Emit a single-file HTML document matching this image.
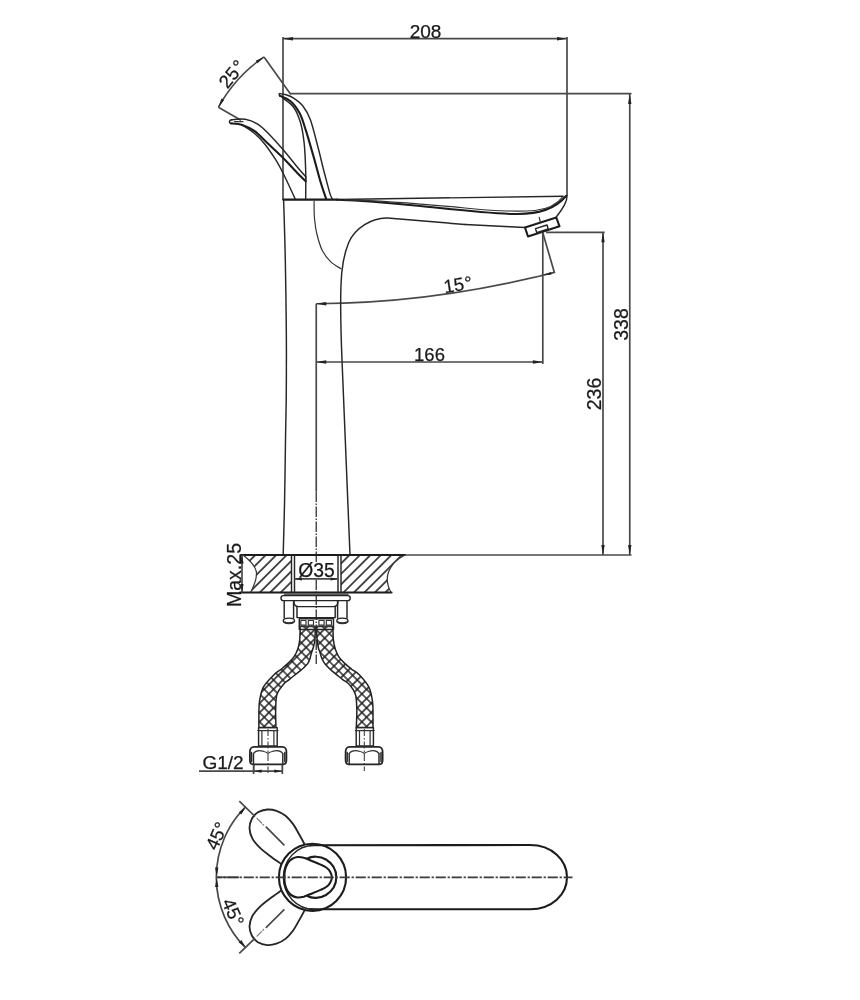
<!DOCTYPE html>
<html>
<head>
<meta charset="utf-8">
<title>Faucet dimension drawing</title>
<style>
  html, body { margin: 0; padding: 0; background: #fff; }
  body { width: 860px; height: 1000px; overflow: hidden; }
  svg { display: block; will-change: transform; }
  text { font-family: "Liberation Sans", sans-serif; fill: #1a1a1a; stroke: #1a1a1a; stroke-width: 0.25; }
  .l  { fill: none; stroke: #262626; stroke-width: 1.45; stroke-linecap: round; stroke-linejoin: round; }
  .t  { fill: none; stroke: #333; stroke-width: 1.2; stroke-linecap: round; stroke-linejoin: round; }
  .k  { fill: none; stroke: #1c1c1c; stroke-width: 2.1; stroke-linecap: round; stroke-linejoin: round; }
  .d  { fill: none; stroke: #4a4a4a; stroke-width: 1.7; }
  .cl { fill: none; stroke: #3a3a3a; stroke-width: 1.35; stroke-dasharray: 10 2.2 2 2.2; }
  .a  { fill: #222; stroke: none; }
</style>
</head>
<body>
<svg width="860" height="1000" viewBox="0 0 860 1000">
<defs>
  <filter id="soft" x="0" y="0" width="860" height="1000" filterUnits="userSpaceOnUse"><feGaussianBlur stdDeviation="0.45"/></filter>
  <pattern id="hatch" patternUnits="userSpaceOnUse" width="7.4" height="7.4" patternTransform="translate(-0.7,0) rotate(-45)">
    <line x1="-1" y1="3.7" x2="8.4" y2="3.7" stroke="#222" stroke-width="1.6"/>
  </pattern>
  <pattern id="braid" patternUnits="userSpaceOnUse" width="6.576" height="6.576" patternTransform="translate(264.25,698.6) rotate(45)">
    <path d="M0,0H6.576M0,6.576H6.576M0,0V6.576M6.576,0V6.576" stroke="#1e1e1e" stroke-width="1.5" fill="none"/>
  </pattern>
</defs>
<rect width="860" height="1000" fill="#fff"/>
<g filter="url(#soft)">

<!-- ===================== SIDE VIEW : DIMENSIONS ===================== -->
<g id="dims">
  <!-- 208 -->
  <path class="d" d="M283,37V199.5M567,37V196M283,38.7H567"/>
  <path class="a" d="M283,38.7l10,-1.7v3.4zM567,38.7l-10,-1.7v3.4z"/>
  <text x="425.5" y="38" font-size="19" text-anchor="middle">208</text>
  <!-- top reference line + 338 -->
  <path class="d" d="M290.5,93.7H631.5M629.75,93.7V555"/>
  <path class="a" d="M629.75,94l-1.7,10h3.4zM629.75,555l-1.7,-10h3.4z"/>
  <text transform="translate(627.8,324.5) rotate(-90)" font-size="19.5" text-anchor="middle">338</text>
  <!-- 236 -->
  <path class="d" d="M546,232.3H604.7M603,232.3V555"/>
  <path class="a" d="M603,232.3l-1.7,10h3.4zM603,555l-1.7,-10h3.4z"/>
  <text transform="translate(600.8,394) rotate(-90)" font-size="19.5" text-anchor="middle">236</text>
  <!-- 166 -->
  <path class="d" d="M542.8,232.5V364M316.25,362H542.8"/>
  <path class="a" d="M316.25,362l10,-1.7v3.4zM542.8,362l-10,-1.7v3.4z"/>
  <text x="429.5" y="360.5" font-size="18.5" text-anchor="middle">166</text>
  <!-- 15 deg -->
  <path class="d" d="M316.25,303.75Q435,303.2 554.4,272.4M542.8,232.8L554.6,273.3"/>
  <path class="a" d="M316.25,303.75l10,-1.7v3.4zM543.3,275l7.6,-3l0.7,2.6z"/>
  <text x="458" y="291" font-size="18.5" text-anchor="middle" transform="rotate(-9 458 285)">15<tspan dx="0.8">°</tspan></text>
  <!-- axis -->
  <path class="d" d="M316.25,303.75V491.5"/>
  <path class="cl" d="M316.25,491.5V562.5" style="stroke-dasharray:10.5 1.5 1.5 1.5"/>
  <path class="cl" d="M316.25,579.5V664" style="stroke-dasharray:10.5 1.5 1.5 1.5"/>
  <!-- 25 deg -->
  <path class="d" d="M218.4,107.2A149,149 0 0 1 264.0,56.9M264.0,56.9L290.8,94.6M218.4,107.2L241,120.3"/>
  <path class="a" d="M264.0,56.9L257.5,63.3L255.7,60.7ZM218.4,107.2L221.4,98.6L224.2,100.1Z"/>
  <text transform="translate(236.8,78) rotate(-51)" font-size="18.5" text-anchor="middle">25<tspan dx="1.6">°</tspan></text>
</g>

<!-- ===================== SIDE VIEW : FAUCET ===================== -->
<g id="faucet">
  <!-- body edges -->
  <path class="l" d="M283.6,199.5C283.9,209.6 284.9,238.2 285.3,260.0C285.8,281.8 286.1,308.3 286.3,330.0C286.5,351.7 286.4,371.7 286.3,390.0C286.2,408.3 285.8,421.7 285.5,440.0C285.2,458.3 285.0,480.9 284.6,500.0C284.2,519.1 283.4,545.4 283.2,554.5"/>
  <path class="l" d="M465,224.5L387.5,218C372,217.5 355,228 348.75,242.5C343,256 341.5,268 341,285C340,310 341,335 342,360S346,470 350,554.5"/>
  <path class="t" d="M314.1,201.4C314.1,204.0 314.0,211.8 314.4,217.2C314.9,222.6 315.5,228.4 316.9,234.0C318.2,239.5 320.1,246.0 322.4,250.7C324.8,255.3 327.7,258.9 330.8,261.9C333.9,264.9 339.3,267.6 341.0,268.7"/>
  <!-- spout -->
  <path class="k" style="stroke-width:2.4" d="M283.5,199.6H337"/>
  <path class="l" d="M337,199.5L563,196.2"/>
  <path class="k" d="M337,199.8C370,201 395,203.5 415,205.5C450,209 490,213.5 515,214C540,214.5 556,208 566,196"/>
  <path class="t" d="M345,199.8C380,200.5 420,203.5 465,208C500,211.5 520,212 535,210.5C548,209 558,203 563,196.5"/>
  <path class="l" d="M465,224.5L525,227.5"/>
  <path class="l" d="M567,195.5C567.2,199 566,202 564.5,204.8C562.5,208.5 559.5,213 556.3,217"/>
  <!-- aerator -->
  <path class="k" d="M525,227.5L556.3,217.5L559.5,226.3L528,236.5Z"/>
  <path class="l" d="M535.5,228.6L547,225L548.2,229L536.8,232.7Z"/>
  <path class="t" d="M539.2,217.3L540.2,221.5"/>
  <!-- upright handle -->
  <path class="l" d="M279.8,96C278.6,94.3 279.2,93.2 280.3,93.6C281.3,94.1 283.8,94.1 286.0,94.8C288.3,95.5 290.8,96.3 293.6,98.1C296.4,100.0 299.9,102.2 302.7,105.7C305.4,109.2 307.7,112.5 310.2,119.3C312.8,126.1 315.5,137.9 317.8,146.5C320.1,155.1 321.8,162.9 323.8,170.7C325.9,178.5 328.5,188.7 329.9,193.4C331.3,198.0 331.8,197.8 332.2,198.7"/>
  <path class="k" d="M280.0,95.9C281.8,96.8 287.3,98.3 290.6,101.2C293.9,104.1 297.1,108.5 299.7,113.3C302.2,118.0 303.4,122.8 305.7,129.9C308.0,136.9 310.7,146.8 313.3,155.6C315.8,164.4 318.7,175.6 320.8,182.8C323.0,190.0 325.2,196.0 326.1,198.7"/>
  <path class="l" d="M283.0,98.1C284.8,99.7 290.7,103.2 293.6,107.2C296.5,111.2 298.6,116.3 300.4,122.3C302.2,128.4 303.3,135.4 304.2,143.5C305.1,151.6 305.4,161.5 305.7,170.7C305.9,179.9 305.7,194.0 305.7,198.7"/>
  <!-- tilted handle -->
  <path class="l" d="M231.6,119.8C233.9,119.7 240.9,118.6 245.2,119.3C249.5,120.0 253.5,121.6 257.3,123.8C261.1,126.1 263.6,128.6 267.9,132.9C272.2,137.2 278.2,144.0 283.0,149.5C287.8,155.1 292.8,161.6 296.6,166.2C300.4,170.7 304.2,175.0 305.7,176.7"/>
  <path class="k" d="M230.9,123.4C232.8,123.6 238.3,123.6 242.2,124.9C246.1,126.2 250.0,127.8 254.3,130.9C258.6,134.0 263.4,139.3 267.9,143.5C272.4,147.7 276.7,151.6 281.5,156.3C286.3,161.1 292.6,168.1 296.6,172.2C300.7,176.4 304.2,179.8 305.7,181.3"/>
  <path class="l" d="M231.6,119.8C228.9,120.2 228.7,123 230.9,123.4"/>
  <path class="t" d="M234.5,121.6H243"/>
  <path class="l" d="M242.2,124.9C244.2,126.3 250.5,130.0 254.3,133.2C258.1,136.4 261.4,139.9 264.9,144.2C268.4,148.6 272.4,154.6 275.5,159.4C278.5,164.1 279.7,166.4 283.0,173.0C286.3,179.5 293.1,194.4 295.1,198.7"/>
  <path class="l" d="M305.7,176.7V181.3"/>
</g>

<!-- ===================== COUNTER TOP ===================== -->
<g id="counter">
  <path d="M243,555H291.5V592.5H250.5C254,586 256.5,580 256.5,573.5C256.3,566 249.5,560 243,555Z" fill="url(#hatch)" stroke="none"/>
  <path d="M341,555H405C397,559 390,566 387.8,574.5C386.5,580.5 388,587 391,592.5H341Z" fill="url(#hatch)" stroke="none"/>
  <path class="k" d="M241,555H405"/>
  <path class="d" d="M405,555H631.5"/>
  <path class="k" d="M240,592.5H391.5"/>
  <path class="t" d="M243,555C249.5,560 256.3,566 256.5,573.5C256.5,580 254,586 250.5,592.5"/>
  <path class="t" d="M405,555C397,559 390,566 387.8,574.5C386.5,580.5 388,587 391,592.5"/>
  <path class="l" d="M291.5,555V593M294.5,555V593M338,555V593M341,555V593"/>
  <!-- O35 -->
  <path class="d" d="M294.5,578.9H338"/>
  <path class="a" d="M294.5,578.9l7.5,-1.5v3zM338,578.9l-7.5,-1.5v3z"/>
  <text x="316.4" y="577" font-size="19.3" text-anchor="middle">Ø35</text>
  <!-- Max.25 -->
  <path class="d" d="M242,555V592.5"/>
  <path class="a" d="M242,555l-1.6,8.5h3.2zM242,592.5l-1.6,-8.5h3.2z"/>
  <text transform="translate(241,575) rotate(-90)" font-size="19.5" text-anchor="middle">Max.25</text>
</g>

<!-- ===================== UNDER-SINK HARDWARE ===================== -->
<g id="under">
  <!-- hoses -->
  <path d="M300.1,626.2C300.1,626.9 300.2,627.8 300.1,630.1C300.0,632.4 300.1,636.9 299.7,640.0C299.3,643.1 298.7,646.2 297.8,649.0C296.9,651.8 295.7,654.2 294.1,656.6C292.5,659.0 290.2,661.3 288.0,663.4C285.8,665.5 283.3,667.4 281.0,669.3C278.7,671.1 277.1,671.5 274.2,674.5C271.3,677.5 265.8,682.6 263.4,687.1C260.9,691.6 260.2,696.7 259.5,701.5C258.8,706.3 259.0,711.5 258.9,715.9C258.8,720.2 258.9,725.6 258.9,727.6L276.0,727.6C275.9,724.5 275.5,714.2 275.7,708.7C275.9,703.2 275.7,698.3 277.0,694.3C278.3,690.3 281.2,687.0 283.3,684.5C285.4,682.0 286.7,681.6 289.5,679.3C292.3,677.0 297.1,673.4 300.1,670.9C303.1,668.4 305.7,666.1 307.3,664.1C308.9,662.1 309.2,660.7 309.9,658.8C310.6,656.9 310.9,654.7 311.5,652.8C312.1,650.9 312.7,649.6 313.3,647.5C313.9,645.4 314.6,642.9 314.9,640.0C315.2,637.1 315.1,632.4 315.2,630.1C315.3,627.8 315.3,626.9 315.3,626.2Z" fill="url(#braid)" stroke="#222" stroke-width="1.5" stroke-linejoin="round"/>
  <path d="M333.0,626.2C333.0,626.9 332.9,627.8 333.0,630.1C333.1,632.4 333.0,636.9 333.4,640.0C333.8,643.1 334.4,646.2 335.3,649.0C336.2,651.8 337.1,654.2 338.7,656.6C340.3,659.0 342.5,661.3 344.7,663.4C346.9,665.5 349.4,667.4 351.8,669.3C354.2,671.1 356.1,671.5 359.0,674.5C361.9,677.5 366.6,682.6 368.9,687.1C371.1,691.6 371.8,696.7 372.5,701.5C373.2,706.3 372.9,711.5 373.0,715.9C373.1,720.2 373.0,725.6 373.0,727.6L356.3,727.6C356.4,724.5 357.0,714.2 356.8,708.7C356.6,703.2 356.6,698.3 355.4,694.3C354.2,690.3 351.6,687.0 349.4,684.5C347.2,682.0 345.3,681.6 342.4,679.3C339.5,677.0 334.8,673.4 331.9,670.9C329.0,668.4 326.8,666.1 325.1,664.1C323.5,662.1 322.8,660.7 322.0,658.8C321.2,656.9 320.7,654.7 320.1,652.8C319.5,650.9 318.8,649.6 318.3,647.5C317.8,645.4 317.4,642.9 317.1,640.0C316.8,637.1 316.7,632.4 316.7,630.1C316.7,627.8 316.9,626.9 316.9,626.2Z" fill="url(#braid)" stroke="#222" stroke-width="1.5" stroke-linejoin="round"/>
  <rect x="284" y="593.2" width="64.5" height="2.6" fill="#5a5a5a"/>
  <rect class="l" x="281" y="595.6" width="69.2" height="5" rx="2.4" fill="#fff"/>
  <path class="l" d="M284.2,600.8V618M293.6,600.8V618M337.6,600.8V618M347,600.8V618"/>
  <ellipse class="l" cx="288.9" cy="620.8" rx="5.6" ry="2.7" fill="#fff"/>
  <ellipse class="l" cx="342.4" cy="620.8" rx="5.6" ry="2.7" fill="#fff"/>
  <path d="M284.2,621.8C286,623.6 291.8,623.6 293.6,621.8M337.7,621.8C339.5,623.6 345.3,623.6 347.1,621.8" fill="none" stroke="#333" stroke-width="1.6"/>
  <path class="l" d="M293.8,601C293.8,604.5 295.5,606.6 298.5,606.6H333.5C336.5,606.6 338,604.5 338,601"/>
  <path class="l" d="M297,607V617.6H335.2V607"/>
  <path class="l" d="M299.3,618.7H333.5V629.4H299.3Z" fill="#fff"/>
  <path class="t" d="M299.3,626.7H333.5"/>
  <path class="t" d="M300.8,620.5h5.2v4.6h-5.2zM308.3,620.5h5.2v4.6h-5.2zM318.9,620.5h5.2v4.6h-5.2zM326.3,620.5h5.2v4.6h-5.2z"/>
  <!-- end fittings -->
  <g id="fitL">
    <path class="l" d="M258.6,727.6H277.2V746H258.6Z" fill="#fff"/>
    <path class="t" d="M257.8,730.6H278.0M261.90000000000003,730.6V746M273.9,730.6V746"/>
    <path class="l" style="stroke-width:1.8" d="M253.9,746.8H282.4C284.9,746.8 286.4,749.3 286.4,751.8V760.3C286.4,762.8 285.2,764.3 283.4,764.3H252.9C251.1,764.3 249.9,762.8 249.9,760.3V751.8C249.9,749.3 251.4,746.8 253.9,746.8Z"/>
    <path class="l" d="M253.5,753.5V764.3M282.79999999999995,753.5V764.3M251.5,752.5V761.5M284.79999999999995,752.5V761.5"/>
    <path class="t" d="M253.5,753.5C255.5,750.6 259.5,750 264,751.5C266,752 267,752.8 268,753.4C269,752.8 270,752 272,751.5C276.79999999999995,750 280.79999999999995,750.6 282.79999999999995,753.5"/>
    <path class="t" d="M253.8,764.3V771M282.49999999999994,764.3V771"/>
    <path class="cl" d="M268,729V773" style="stroke-dasharray:7 2 1.5 2;stroke-width:1.05"/>
  </g>
  <g id="fitR">
    <path class="l" d="M356.2,727.6H373.4V746H356.2Z" fill="#fff"/>
    <path class="t" d="M355.4,730.6H374.2M359.5,730.6V746M370.09999999999997,730.6V746"/>
    <path class="l" style="stroke-width:1.8" d="M349.6,746.8H378.6C381.1,746.8 382.6,749.3 382.6,751.8V760.3C382.6,762.8 381.40000000000003,764.3 379.6,764.3H348.6C346.8,764.3 345.6,762.8 345.6,760.3V751.8C345.6,749.3 347.1,746.8 349.6,746.8Z"/>
    <path class="l" d="M349.20000000000005,753.5V764.3M379.0,753.5V764.3M347.20000000000005,752.5V761.5M381.0,752.5V761.5"/>
    <path class="t" d="M349.20000000000005,753.5C351.20000000000005,750.6 355.20000000000005,750 360.3,751.5C362.3,752 363.3,752.8 364.3,753.4C365.3,752.8 366.3,752 368.3,751.5C373.0,750 377.0,750.6 379.0,753.5"/>
    <path class="cl" d="M364.3,729V771" style="stroke-dasharray:7 2 1.5 2;stroke-width:1.05"/>
  </g>
  <!-- G1/2 -->
  <path class="d" d="M199,771.2H283M253.6,765V774M282.3,765V774"/>
  <path class="a" d="M253.6,771.2l8,-1.6v3.2zM282.3,771.2l-8,-1.6v3.2z"/>
  <text x="223" y="769" font-size="19" text-anchor="middle">G1/2</text>
</g>

<!-- ===================== TOP VIEW ===================== -->
<g id="topview">
  <!-- spout -->
  <path class="k" d="M310,845.3L530,845C552,845 567,860 567,877.3C567,894.5 552,909.3 530,909.3L310,909.3"/>
  <circle class="k" cx="312.5" cy="877.3" r="33.6"/>
  <path class="l" d="M314,845.2C296.5,845.5 283.4,860 283.4,877.3C283.4,894.5 296.5,909 314,909.3"/>
  <!-- inner ring (partly hidden) -->
  <path class="k" d="M307.5,858.5C312,855.8 320,856 326,859.5C332.5,863.5 336.3,870 336.3,877.3C336.3,884.5 332.5,891 326,895C320,898.5 312,898.8 307.5,896"/>
  <!-- centre handle (teardrop) -->
  <path class="k" d="M284.4,877.2C284.4,874.8 284.4,872.4 285.0,870.0C285.6,867.6 286.6,865.0 287.8,863.1C288.9,861.3 290.2,860.0 291.9,859.0C293.5,858.0 295.5,857.2 297.5,857.0C299.5,856.8 301.7,857.2 303.8,857.8C305.8,858.3 307.3,859.1 310.0,860.2C312.7,861.4 317.3,863.2 320.0,864.4C322.7,865.6 324.6,866.3 326.2,867.5C327.9,868.7 329.1,869.9 330.0,871.5C330.9,873.1 331.9,875.3 331.9,877.2C331.9,879.2 330.9,881.4 330.0,883.0C329.1,884.6 327.9,885.8 326.2,887.0C324.6,888.2 322.7,888.9 320.0,890.1C317.3,891.3 312.7,893.1 310.0,894.2C307.3,895.4 305.8,896.2 303.8,896.8C301.7,897.3 299.5,897.7 297.5,897.5C295.5,897.3 293.5,896.5 291.9,895.5C290.2,894.5 288.9,893.2 287.8,891.4C286.6,889.5 285.6,886.9 285.0,884.5C284.4,882.1 284.4,879.7 284.4,877.2Z"/>
  <!-- swung handles -->
  <path class="l" style="stroke-width:1.85" d="M304.4,844.0C303.5,842.2 300.7,837.0 298.8,833.7C297.0,830.5 295.4,827.4 293.3,824.4C291.1,821.5 288.6,818.3 285.8,816.0C283.0,813.8 279.6,812.0 276.5,810.9C273.4,809.8 270.3,809.3 267.2,809.5C264.1,809.8 260.5,810.8 257.9,812.3C255.3,813.9 253.3,816.2 251.9,818.8C250.5,821.5 249.5,824.9 249.5,828.1C249.6,831.4 250.6,835.1 252.3,838.4C254.0,841.6 256.8,844.7 259.8,847.7C262.7,850.6 266.4,853.3 270.0,856.0C273.6,858.8 279.3,862.6 281.2,864.0"/>
  <path class="l" style="stroke-width:1.85" d="M304.4,910.6C303.5,912.4 300.7,917.6 298.8,920.9C297.0,924.1 295.4,927.2 293.3,930.2C291.1,933.1 288.6,936.3 285.8,938.6C283.0,940.8 279.6,942.6 276.5,943.7C273.4,944.8 270.3,945.3 267.2,945.1C264.1,944.8 260.5,943.8 257.9,942.3C255.3,940.7 253.3,938.4 251.9,935.8C250.5,933.1 249.5,929.7 249.5,926.5C249.6,923.2 250.6,919.5 252.3,916.2C254.0,913.0 256.8,909.9 259.8,906.9C262.7,904.0 266.4,901.3 270.0,898.6C273.6,895.8 279.3,892.0 281.2,890.6"/>
  <!-- centre lines -->
  <path class="d" d="M216.3,877.3H239"/>
  <path class="cl" d="M216.5,877.3H572.5" style="stroke-width:1.8;stroke-dasharray:10.2 1.8 2.2 1.8;stroke-dashoffset:4.9"/>
  <path class="d" d="M239.3,801.2L255.1,816.5M239.3,953.4L255.1,938.1"/>
  <path class="t" d="M257,818.4L261.6,823M262.9,824.3L263.7,825.1" style="stroke:#777"/>
  <path class="t" d="M257,936.2L261.6,931.6M262.9,930.3L263.7,929.5" style="stroke:#777"/>
  <path class="d" d="M265.8,826.7L284.4,845.3M265.8,927.9L284.4,909.3"/>
  <!-- 45 deg arcs -->
  <path class="d" d="M245.8,806.6A99.5,99.5 0 0 0 245.8,948"/>
  <path class="a" d="M245.6,807.6l-6.9,4.6l2.6,2.4zM245.6,947l-6.9,-4.6l2.6,-2.4zM216.7,876.4l-1.7,-8.8h3.4zM216.7,878.2l-1.7,8.8h3.4z"/>
  <text transform="translate(222.5,838.5) rotate(-66)" font-size="18.5" text-anchor="middle">45°</text>
  <text transform="translate(227.3,914.7) rotate(66)" font-size="18.5" text-anchor="middle">45°</text>
</g>
</g>
</svg>
</body>
</html>
